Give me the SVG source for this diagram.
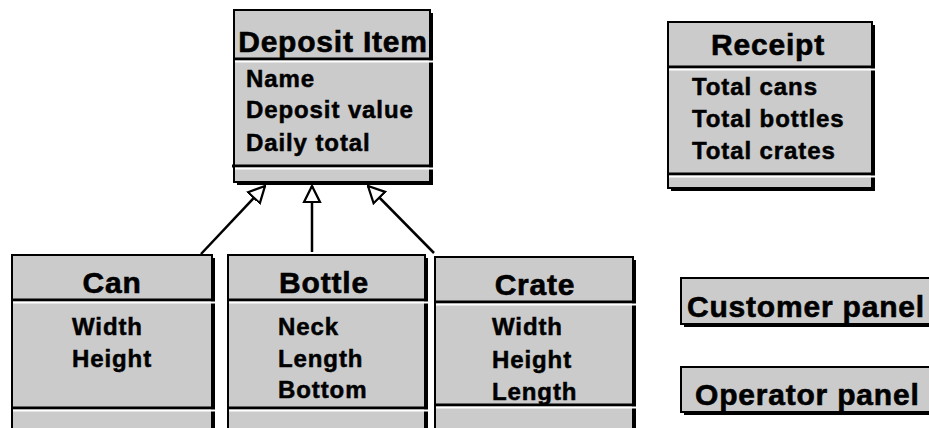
<svg xmlns="http://www.w3.org/2000/svg" width="929" height="428" viewBox="0 0 929 428">
<defs>
<style>
.sh{fill:#000}
.bx{fill:#cbcbcb;stroke:#000;stroke-width:2}
.dk{stroke:#000;stroke-width:3}
.wt{stroke:#fff;stroke-width:2}
.hd{font-family:"Liberation Sans",Arial,sans-serif;font-weight:bold;font-size:30px;letter-spacing:0.8px;fill:#000;stroke:#000;stroke-width:0.6}
.at{font-family:"Liberation Sans",Arial,sans-serif;font-weight:bold;font-size:24px;letter-spacing:0.9px;fill:#000;stroke:#000;stroke-width:0.5}
.cn{stroke:#000;stroke-width:2.5;fill:none}
</style>
<marker id="tri" viewBox="0 0 20 20" refX="19" refY="10" markerWidth="18" markerHeight="20" markerUnits="userSpaceOnUse" orient="auto">
<path d="M1,1 L19,10 L1,19 Z" fill="#fff" stroke="#000" stroke-width="2.5"/>
</marker>
</defs>
<rect width="929" height="428" fill="#fff"/>

<g id="deposit-item">
<rect class="sh" x="237" y="13" width="196" height="172"/>
<rect class="bx" x="234" y="10" width="196" height="172"/>
<line class="dk" x1="234" y1="59" x2="433" y2="59"/>
<line class="wt" x1="235" y1="61.5" x2="433" y2="61.5"/>
<line class="dk" x1="232" y1="166" x2="433" y2="166"/>
<line class="wt" x1="235" y1="168.5" x2="433" y2="168.5"/>
<text class="hd" x="333" y="52" text-anchor="middle">Deposit Item</text>
<text class="at" x="246" y="87">Name</text>
<text class="at" x="246" y="118">Deposit value</text>
<text class="at" x="246" y="151">Daily total</text>
</g>

<g id="receipt">
<rect class="sh" x="671" y="25" width="204" height="166"/>
<rect class="bx" x="668" y="22" width="204" height="166"/>
<line class="dk" x1="668" y1="67" x2="875" y2="67"/>
<line class="wt" x1="669" y1="69.5" x2="875" y2="69.5"/>
<line class="dk" x1="668" y1="174" x2="875" y2="174"/>
<line class="wt" x1="669" y1="176.5" x2="875" y2="176.5"/>
<text class="hd" x="768" y="55" text-anchor="middle">Receipt</text>
<text class="at" x="692" y="95">Total cans</text>
<text class="at" x="692" y="127">Total bottles</text>
<text class="at" x="692" y="159">Total crates</text>
</g>

<g id="can">
<rect class="sh" x="15" y="258" width="200" height="180"/>
<rect class="bx" x="12" y="255" width="200" height="180"/>
<line class="dk" x1="12" y1="300" x2="215" y2="300"/>
<line class="wt" x1="13" y1="302.5" x2="215" y2="302.5"/>
<line class="dk" x1="12" y1="408" x2="215" y2="408"/>
<line class="wt" x1="13" y1="410.5" x2="215" y2="410.5"/>
<text class="hd" x="112" y="293" text-anchor="middle">Can</text>
<text class="at" x="72" y="335">Width</text>
<text class="at" x="72" y="367">Height</text>
</g>

<g id="bottle">
<rect class="sh" x="231" y="258" width="197" height="180"/>
<rect class="bx" x="228" y="255" width="197" height="180"/>
<line class="dk" x1="228" y1="300" x2="428" y2="300"/>
<line class="wt" x1="229" y1="302.5" x2="428" y2="302.5"/>
<line class="dk" x1="228" y1="408" x2="428" y2="408"/>
<line class="wt" x1="229" y1="410.5" x2="428" y2="410.5"/>
<text class="hd" x="324" y="293" text-anchor="middle">Bottle</text>
<text class="at" x="278" y="335">Neck</text>
<text class="at" x="278" y="367">Length</text>
<text class="at" x="278" y="398">Bottom</text>
</g>

<g id="crate">
<rect class="sh" x="438" y="260" width="198" height="180"/>
<rect class="bx" x="435" y="257" width="198" height="180"/>
<line class="dk" x1="435" y1="302" x2="636" y2="302"/>
<line class="wt" x1="436" y1="304.5" x2="636" y2="304.5"/>
<line class="dk" x1="435" y1="405" x2="636" y2="405"/>
<line class="wt" x1="436" y1="407.5" x2="636" y2="407.5"/>
<text class="hd" x="535" y="295" text-anchor="middle">Crate</text>
<text class="at" x="492" y="335">Width</text>
<text class="at" x="492" y="368">Height</text>
<text class="at" x="492" y="400">Length</text>
</g>

<g id="customer-panel">
<rect class="sh" x="684" y="281" width="260" height="46"/>
<rect class="bx" x="681" y="278" width="260" height="46"/>
<text class="hd" x="687" y="317">Customer panel</text>
</g>

<g id="operator-panel">
<rect class="sh" x="684" y="370" width="260" height="45"/>
<rect class="bx" x="681" y="367" width="260" height="45"/>
<text class="hd" x="695" y="405">Operator panel</text>
</g>

<g id="connectors">
<line class="cn" x1="201" y1="254" x2="265" y2="186" marker-end="url(#tri)"/>
<line class="cn" x1="312" y1="252" x2="312" y2="186" marker-end="url(#tri)"/>
<line class="cn" x1="434" y1="253" x2="368" y2="186" marker-end="url(#tri)"/>
</g>
</svg>
